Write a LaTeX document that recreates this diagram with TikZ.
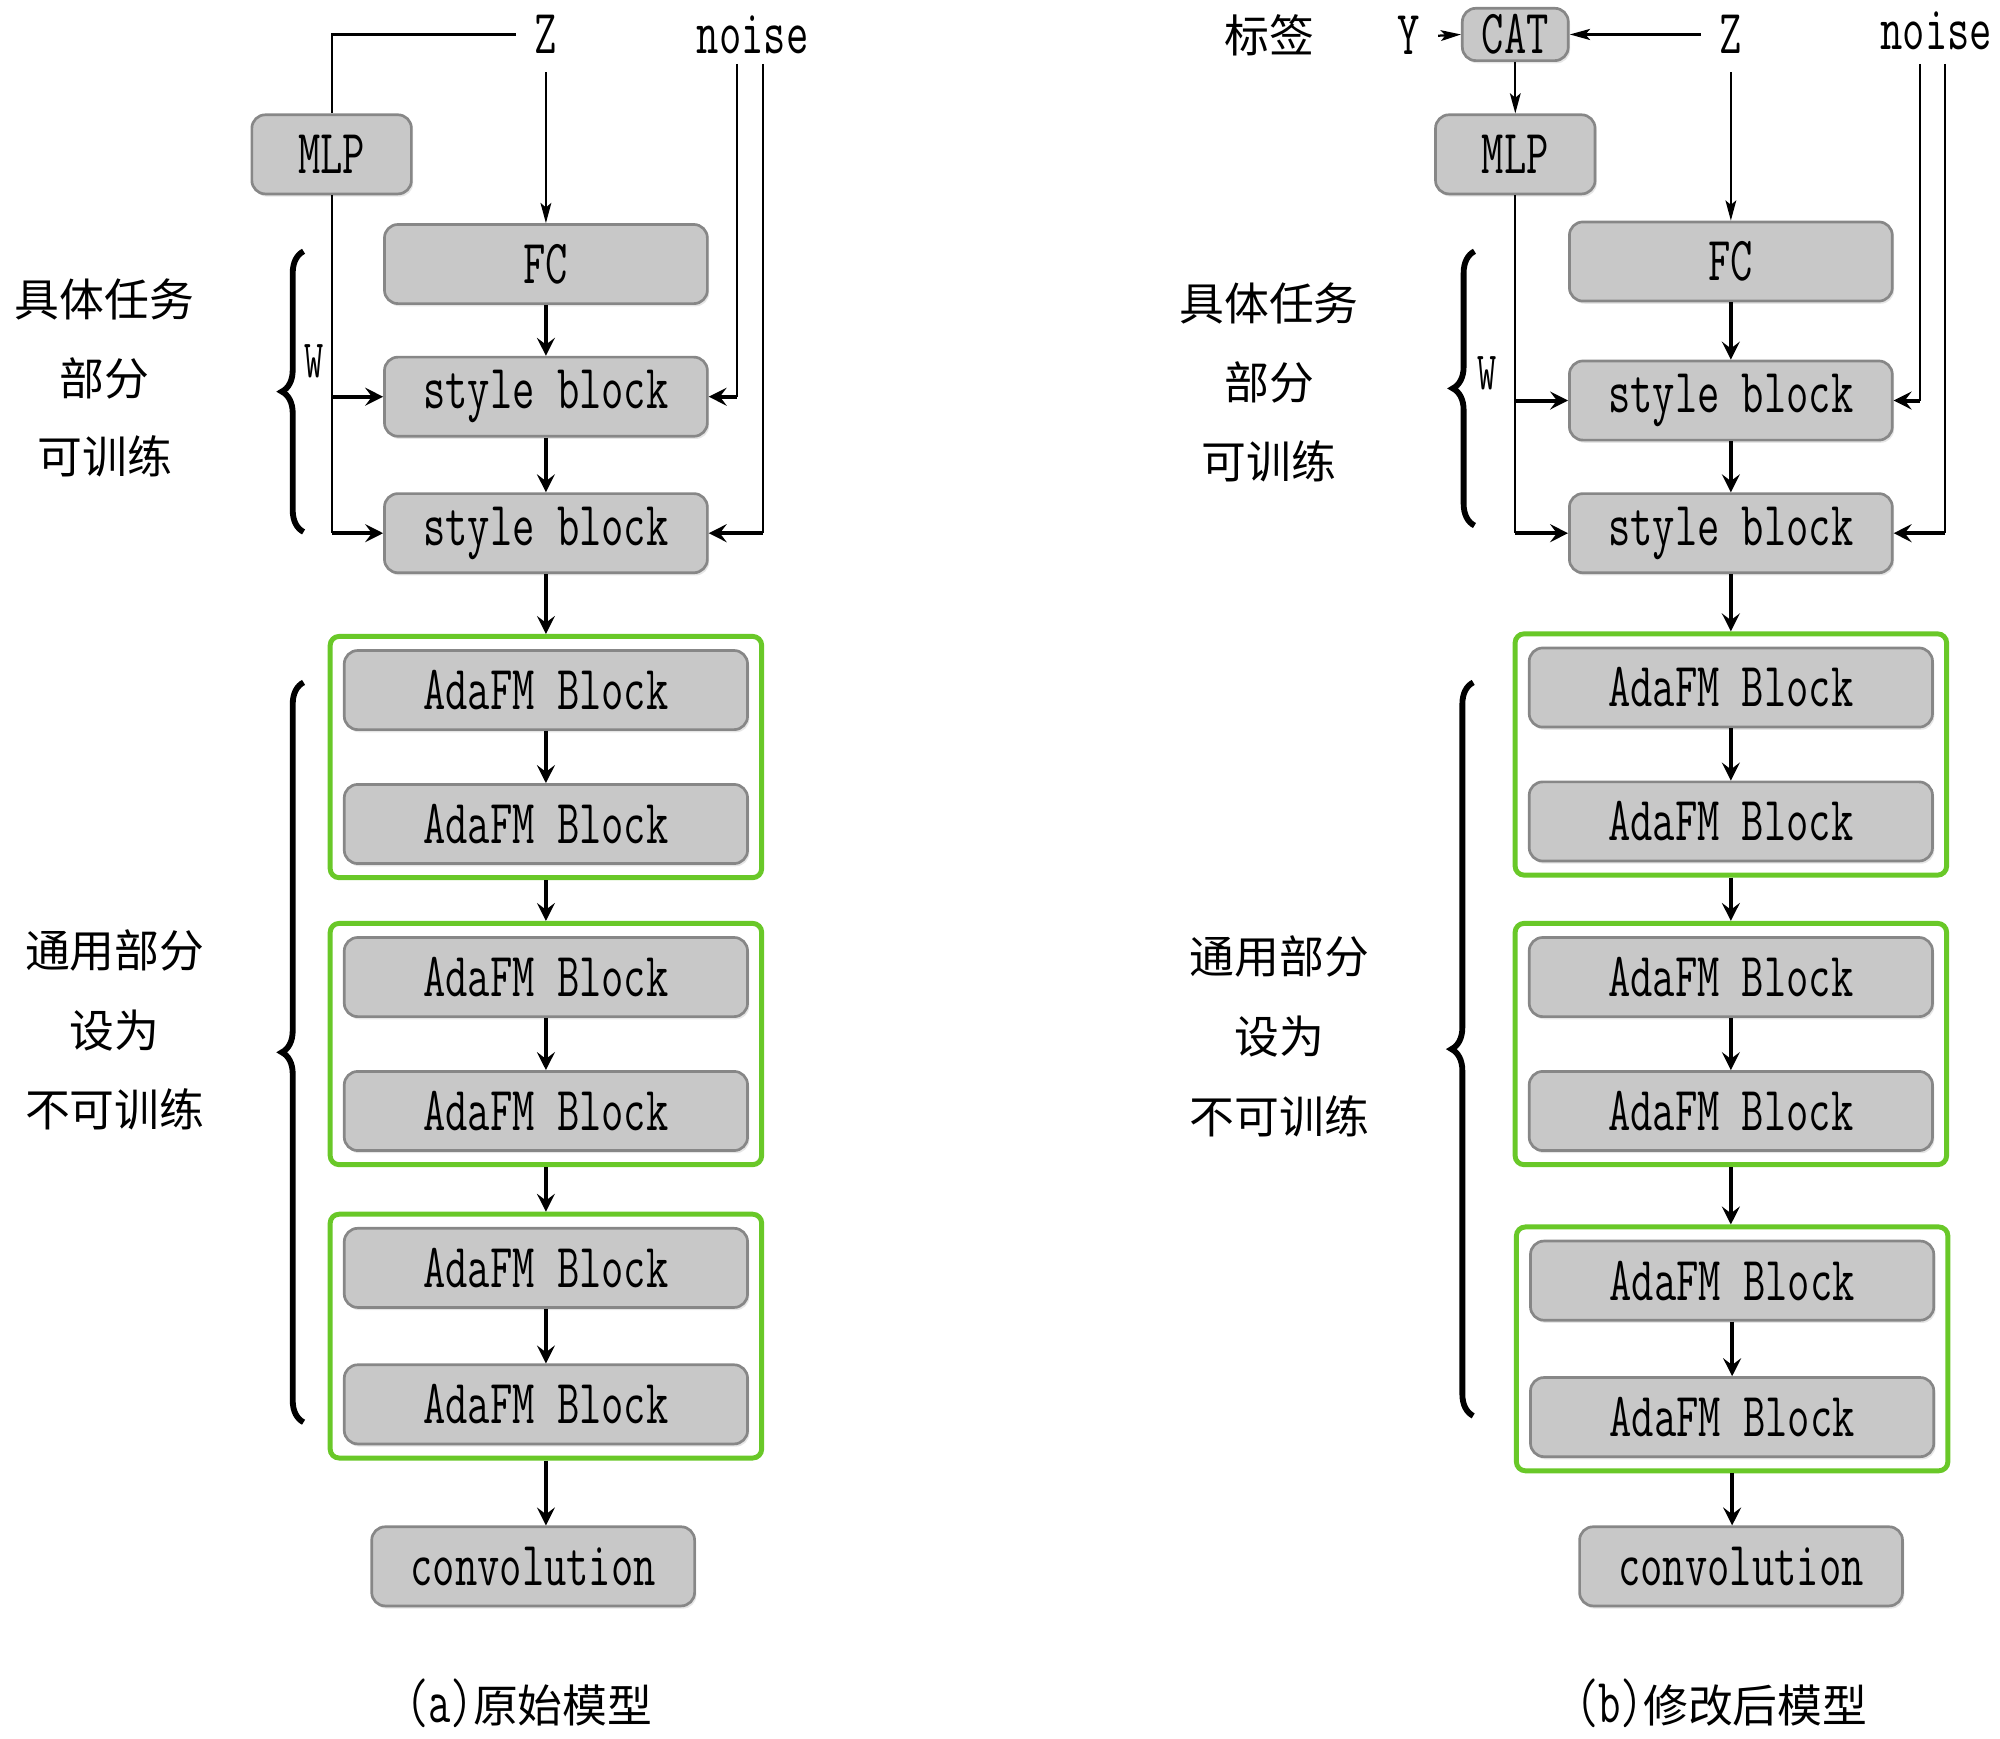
\documentclass[tikz,border=0pt]{standalone}
\usepackage{fontspec}
\setmainfont{Latin Modern Mono}[FakeStretch=0.69]
\newfontfamily\cjk{Noto Sans CJK SC}
\usetikzlibrary{arrows.meta,fit,shadows,decorations.pathreplacing}
\definecolor{boxfill}{RGB}{200,200,200}
\definecolor{boxline}{RGB}{135,135,135}
\definecolor{grpline}{RGB}{105,200,40}
\newcommand\zhsize{\fontsize{10pt}{12pt}\cjk}
\tikzset{
    blk/.style={draw=boxline, fill=boxfill, rounded corners=3pt, line width=0.6pt,
        minimum height=0.62cm, minimum width=2.53cm, inner sep=0pt,
        font=\fontsize{14pt}{16pt}\selectfont,
        drop shadow={opacity=0.2, shadow xshift=0.4pt, shadow yshift=-0.6pt}},
    ada/.style={blk, minimum width=3.16cm},
    grp/.style={draw=grpline, line width=1.1pt, rounded corners=2pt, inner sep=0.1cm},
    lbl/.style={font=\fontsize{14pt}{16pt}\selectfont, inner sep=4pt},
    wlbl/.style={font=\fontsize{12pt}{14pt}\selectfont, inner sep=0pt},
    zh/.style={font=\zhsize, inner sep=0pt},
    flow/.style={-{Stealth[length=4pt,width=4pt,inset=1.5pt]}, line width=0.9pt},
    feed/.style={-{Stealth[length=4.5pt,width=2.4pt,inset=1pt]}, line width=0.5pt},
    wire/.style={line width=0.5pt},
    curly/.style={decorate, decoration={brace, amplitude=0.17cm}, line width=1.3pt},
}
\begin{document}
\begin{tikzpicture}[x=0.01cm, y=-0.01cm]
\useasboundingbox (0,0) rectangle (1568,1362.6);

\node[lbl] (zA) at (428,27) {Z};
\node[lbl] (noiseA) at (590,27) {noise};
\coordinate (nA1) at (578,50);
\coordinate (nA2) at (598,50);
\node[blk, minimum width=1.25cm] (mlpA) at (260,121) {MLP};
\node[blk] (fcA) at (428,207) {FC};
\node[blk] (sbA1) at (428,311) {style block};
\node[blk] (sbA2) at (428,418) {style block};
\node[ada] (adaA1) at (428,541) {AdaFM Block};
\node[ada] (adaA2) at (428,646) {AdaFM Block};
\node[ada] (adaA3) at (428,766) {AdaFM Block};
\node[ada] (adaA4) at (428,871) {AdaFM Block};
\node[ada] (adaA5) at (428,994) {AdaFM Block};
\node[ada] (adaA6) at (428,1101) {AdaFM Block};
\node[grp, fit=(adaA1)(adaA2)] (grpA1) {};
\node[grp, fit=(adaA3)(adaA4)] (grpA2) {};
\node[grp, fit=(adaA5)(adaA6)] (grpA3) {};
\node[blk] (convA) at (418,1228) {convolution};
\node[wlbl] (wA) at (246,283) {W};
\node[zh] (taskA1) at (82,235) {具体任务};
\node[zh] (taskA2) at (82,297) {部分};
\node[zh] (taskA3) at (82,358) {可训练};
\node[zh] (fixA1) at (90,745) {通用部分};
\node[zh] (fixA2) at (90,808) {设为};
\node[zh] (fixA3) at (90,870) {不可训练};
\node[lbl] (capA) at (415,1335) {(a){\zhsize 原始模型}};

\draw[wire] (zA.west) -| (mlpA.north);
\draw[feed] (zA.south) -- (fcA.north);
\draw[wire] (mlpA.south) -- (mlpA.south |- sbA2.west);
\draw[flow] (mlpA.south |- sbA1.west) -- (sbA1.west);
\draw[flow] (mlpA.south |- sbA2.west) -- (sbA2.west);
\draw[wire] (nA1) -- (nA1 |- sbA1.east);
\draw[wire] (nA2) -- (nA2 |- sbA2.east);
\draw[flow] (nA1 |- sbA1.east) -- (sbA1.east);
\draw[flow] (nA2 |- sbA2.east) -- (sbA2.east);
\draw[flow] (fcA) -- (sbA1);
\draw[flow] (sbA1) -- (sbA2);
\draw[flow] (sbA2.south) -- (grpA1.north);
\draw[flow] (adaA1) -- (adaA2);
\draw[flow] (grpA1.south) -- (grpA2.north);
\draw[flow] (adaA3) -- (adaA4);
\draw[flow] (grpA2.south) -- (grpA3.north);
\draw[flow] (adaA5) -- (adaA6);
\draw[flow] (grpA3.south) -- (grpA3.south |- convA.north);
\draw[curly] (238,417) -- (238,197);
\draw[curly] (238,1115) -- (238,535);

\node[zh] (tagB) at (995,28) {标签};
\node[lbl] (yB) at (1104,28) {Y};
\node[blk, minimum width=0.83cm, minimum height=0.41cm] (catB) at (1188,27) {CAT};
\node[lbl] (zB) at (1357,27) {Z};
\node[lbl] (noiseB) at (1518,24) {noise};
\coordinate (nB1) at (1505,50);
\coordinate (nB2) at (1525,50);
\node[blk, minimum width=1.25cm] (mlpB) at (1188,121) {MLP};
\node[blk] (fcB) at (1357,205) {FC};
\node[blk] (sbB1) at (1357,314) {style block};
\node[blk] (sbB2) at (1357,418) {style block};
\node[ada] (adaB1) at (1357,539) {AdaFM Block};
\node[ada] (adaB2) at (1357,644) {AdaFM Block};
\node[ada] (adaB3) at (1357,766) {AdaFM Block};
\node[ada] (adaB4) at (1357,871) {AdaFM Block};
\node[ada] (adaB5) at (1358,1004) {AdaFM Block};
\node[ada] (adaB6) at (1358,1111) {AdaFM Block};
\node[grp, fit=(adaB1)(adaB2)] (grpB1) {};
\node[grp, fit=(adaB3)(adaB4)] (grpB2) {};
\node[grp, fit=(adaB5)(adaB6)] (grpB3) {};
\node[blk] (convB) at (1365,1228) {convolution};
\node[wlbl] (wB) at (1166,293) {W};
\node[zh] (taskB1) at (995,238) {具体任务};
\node[zh] (taskB2) at (995,300) {部分};
\node[zh] (taskB3) at (995,362) {可训练};
\node[zh] (fixB1) at (1003,750) {通用部分};
\node[zh] (fixB2) at (1003,813) {设为};
\node[zh] (fixB3) at (1003,875) {不可训练};
\node[lbl] (capB) at (1350,1335) {(b){\zhsize 修改后模型}};

\draw[feed] (yB.east) -- (catB.west);
\draw[feed, line width=0.8pt] (zB.west) -- (catB.east);
\draw[feed] (catB.south) -- (mlpB.north);
\draw[feed] (zB.south) -- (fcB.north);
\draw[wire] (mlpB.south) -- (mlpB.south |- sbB2.west);
\draw[flow] (mlpB.south |- sbB1.west) -- (sbB1.west);
\draw[flow] (mlpB.south |- sbB2.west) -- (sbB2.west);
\draw[wire] (nB1) -- (nB1 |- sbB1.east);
\draw[wire] (nB2) -- (nB2 |- sbB2.east);
\draw[flow] (nB1 |- sbB1.east) -- (sbB1.east);
\draw[flow] (nB2 |- sbB2.east) -- (sbB2.east);
\draw[flow] (fcB) -- (sbB1);
\draw[flow] (sbB1) -- (sbB2);
\draw[flow] (sbB2.south) -- (grpB1.north);
\draw[flow] (adaB1) -- (adaB2);
\draw[flow] (grpB1.south) -- (grpB2.north);
\draw[flow] (adaB3) -- (adaB4);
\draw[flow] (grpB2.south) -- (grpB2.south |- grpB3.north);
\draw[flow] (adaB5) -- (adaB6);
\draw[flow] (grpB3.south) -- (grpB3.south |- convB.north);
\draw[curly] (1156,412) -- (1156,197);
\draw[curly] (1155,1110) -- (1155,535);
\end{tikzpicture}
\end{document}
